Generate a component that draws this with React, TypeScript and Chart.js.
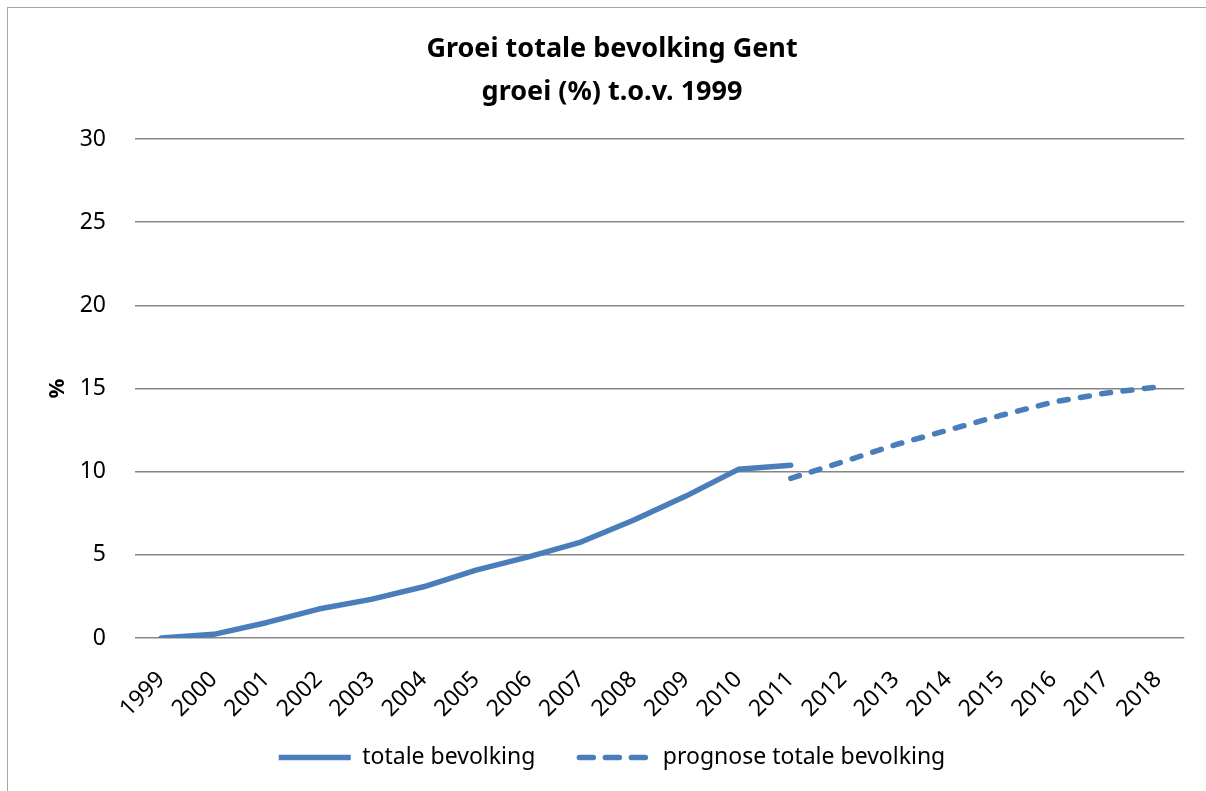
import React, { useEffect, useRef } from "react";
import { Chart, registerables } from "chart.js";

Chart.register(...registerables);

const years = [
  "1999", "2000", "2001", "2002", "2003", "2004", "2005", "2006", "2007", "2008",
  "2009", "2010", "2011", "2012", "2013", "2014", "2015", "2016", "2017", "2018",
];
const totaleBevolking = [0, 0.22, 0.92, 1.74, 2.32, 3.08, 4.08, 4.88, 5.77, 7.08, 8.53, 10.14, 10.38,
  null, null, null, null, null, null, null];
const prognoseTotaleBevolking = [null, null, null, null, null, null, null, null, null, null, null, null,
  9.6, 10.6, 11.62, 12.5, 13.38, 14.18, 14.72, 15.1];
const titleLines = ["Groei totale bevolking Gent", "groei (%) t.o.v. 1999"];
const seriesNames = ["totale bevolking", "prognose totale bevolking"];

const BLUE = "#4A7EBB";
const FONT = "'Noto Sans', sans-serif";
const DASH = [9, 12.5];

export default function App() {
  const ref = useRef<HTMLCanvasElement | null>(null);
  useEffect(() => {
    document.documentElement.style.overflow = "hidden";
    document.body.style.overflow = "hidden";
    const chart = new Chart(ref.current as HTMLCanvasElement, {
      type: "line",
      data: {
        labels: years,
        datasets: [
          {
            label: seriesNames[0],
            data: totaleBevolking,
            borderColor: BLUE,
            backgroundColor: BLUE,
            borderWidth: 5.5,
            pointRadius: 0,
            tension: 0,
            borderCapStyle: "round",
            borderJoinStyle: "round",
          },
          {
            label: seriesNames[1],
            data: prognoseTotaleBevolking,
            borderColor: BLUE,
            backgroundColor: BLUE,
            borderWidth: 5.5,
            borderDash: DASH,
            pointRadius: 0,
            tension: 0,
            borderCapStyle: "round",
            borderJoinStyle: "round",
          },
        ],
      },
      options: {
        animation: false,
        responsive: true,
        maintainAspectRatio: false,
        layout: { padding: { left: 29, right: 19, top: 0, bottom: 12 } },
        plugins: {
          tooltip: { enabled: false },
          title: {
            display: true,
            text: titleLines,
            color: "#000",
            font: { family: FONT, size: 27, weight: "bold", lineHeight: "43px" },
            padding: { top: 19.5, bottom: 25.5 },
          },
          legend: {
            display: true,
            position: "bottom",
            labels: {
              color: "#000",
              font: { family: FONT, size: 23 },
              usePointStyle: true,
              pointStyle: "line",
              pointStyleWidth: 72,
              boxHeight: 23,
              padding: 44,
              generateLabels: (ch: any) => {
                const items = Chart.defaults.plugins.legend.labels.generateLabels(ch);
                return items.map((it: any, i: number) => ({
                  ...it,
                  pointStyle: "line",
                  lineWidth: 5.5,
                  strokeStyle: BLUE,
                  fillStyle: BLUE,
                  lineCap: i === 1 ? "round" : "butt",
                  lineDash: i === 1 ? [14, 12] : [],
                }));
              },
            },
          },
        },
        scales: {
          x: {
            offset: true,
            grid: { display: false, drawTicks: false },
            border: { display: false },
            ticks: {
              color: "#000",
              font: { family: FONT, size: 23 },
              minRotation: 45,
              maxRotation: 45,
              padding: 28,
              autoSkip: false,
            },
            afterFit: (scale: any) => {
              scale.height = 64;
              scale._computeLabelArea = () => undefined;
            },
          },
          y: {
            min: 0,
            max: 30,
            ticks: {
              stepSize: 5,
              color: "#000",
              font: { family: FONT, size: 23 },
              padding: 29,
            },
            grid: { color: "#868686", lineWidth: 1.5, drawTicks: false },
            border: { display: false },
            title: {
              display: true,
              text: "%",
              color: "#000",
              font: { family: FONT, size: 22, weight: "bold" },
              padding: { top: 8, bottom: 0 },
            },
            afterFit: (scale: any) => {
              scale.width = 98;
            },
          },
        },
      },
    });
    return () => chart.destroy();
  }, []);

  return (
    <div
      style={{
        position: "fixed",
        left: 7,
        top: 7,
        width: 1260,
        height: 820,
        boxSizing: "border-box",
        borderTop: "1px solid #a6a6a6",
        borderLeft: "1px solid #a6a6a6",
        background: "#fff",
      }}
    >
      <div style={{ position: "relative", width: 1198, height: 783 }}>
        <canvas ref={ref} />
      </div>
    </div>
  );
}
